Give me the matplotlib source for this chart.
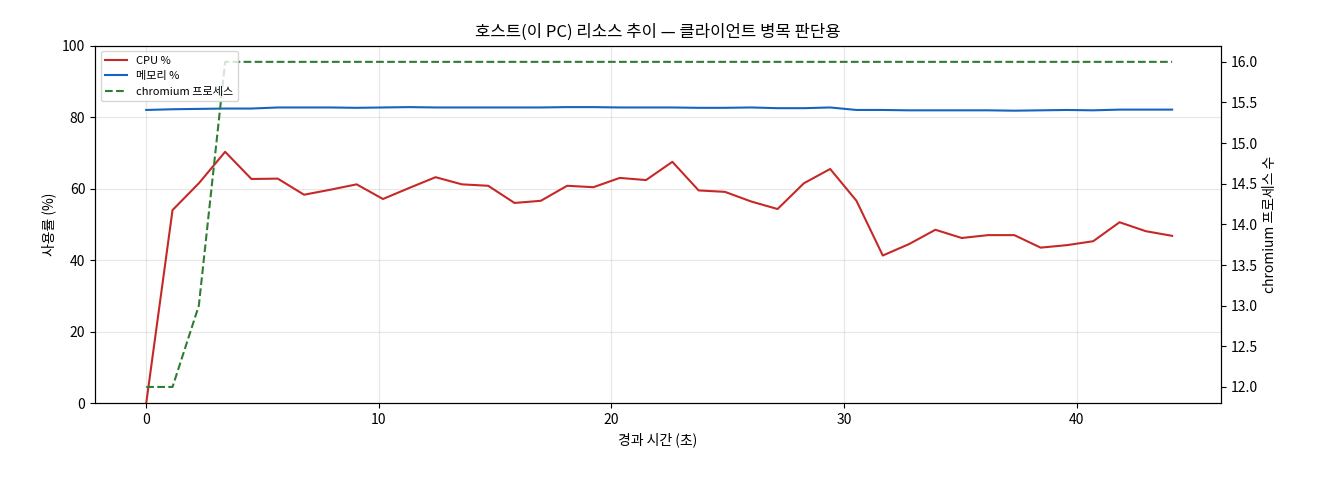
import matplotlib
matplotlib.use("Agg")
import matplotlib.pyplot as plt
import numpy as np

plt.rcParams['font.family'] = ['Noto Sans CJK KR', 'DejaVu Sans']

step = 44.1 / 39
t = [i * step for i in range(40)]
cpu = [0, 54, 61.5, 70.3, 62.7, 62.8, 58.3, 59.7, 61.2, 57.1, 60.2, 63.2, 61.2, 60.8, 56, 56.6, 60.8, 60.4,
       63, 62.4, 67.5, 59.5, 59.1, 56.4, 54.3, 61.5, 65.5, 56.6, 41.3, 44.5, 48.5, 46.2, 47, 47, 43.5, 44.2,
       45.3, 50.6, 48.1, 46.8]
mem = [82.0, 82.2, 82.3, 82.4, 82.4, 82.7, 82.7, 82.7, 82.6, 82.7, 82.8, 82.7, 82.7, 82.7, 82.7, 82.7,
       82.8, 82.8, 82.7, 82.7, 82.7, 82.6, 82.6, 82.7, 82.5, 82.5, 82.7, 82.0, 82.0, 81.9, 81.9, 81.9,
       81.9, 81.8, 81.9, 82.0, 81.9, 82.1, 82.1, 82.1]
proc = [12, 12, 13, 16] + [16] * 36

fig, ax = plt.subplots(figsize=(13.2, 4.8), dpi=100)
fig.subplots_adjust(left=0.072, right=0.925, top=0.905, bottom=0.16)
l1, = ax.plot(t, cpu, color='#c62828', lw=1.5, label='CPU %')
l2, = ax.plot(t, mem, color='#1565c0', lw=1.5, label='메모리 %')
ax.set_ylim(0, 100)
ax.set_xlim(-2.2, 46.2)
ax.set_xlabel('경과 시간 (초)')
ax.set_ylabel('사용률 (%)')
ax.grid(True, alpha=0.3)
ax.set_title('호스트(이 PC) 리소스 추이 — 클라이언트 병목 판단용', fontsize=12)
ax2 = ax.twinx()
l3, = ax2.plot(t, proc, color='#2e7d32', lw=1.5, ls='--', label='chromium 프로세스')
ax2.set_ylim(11.8, 16.2)
ax2.set_ylabel('chromium 프로세스 수')
ax2.legend(handles=[l1, l2, l3], loc='upper left', fontsize=8)
fig.savefig('out.png')
